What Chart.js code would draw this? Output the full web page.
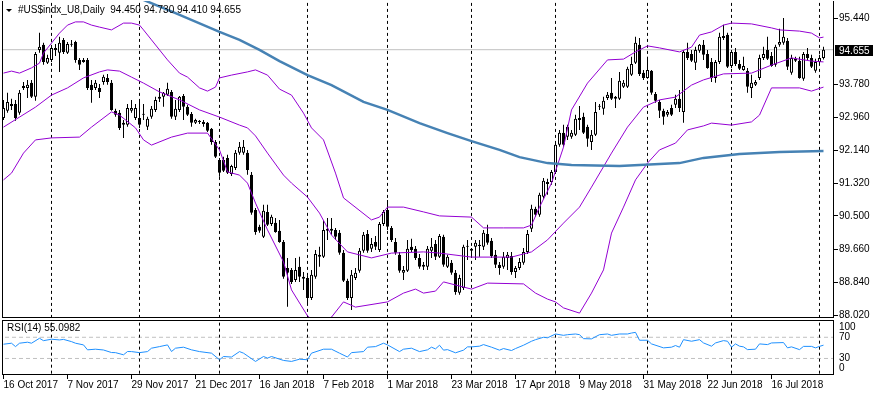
<!DOCTYPE html>
<html>
<head>
<meta charset="utf-8">
<script src="https://cdn.jsdelivr.net/npm/chart.js@4.4.1/dist/chart.umd.min.js"></script>
<style>
html, body { margin: 0; padding: 0; background: #fff; }
#wrap { position: relative; width: 873px; height: 395px; overflow: hidden; font-family: 'Liberation Sans', Arial, sans-serif; }
canvas { position: absolute; left: 0; display: block; }
#main { top: 0; }
#rsi { top: 318px; }
.lbl { position: absolute; font-size: 10px; line-height: 12px; color: #000; white-space: pre; }
.tri { position: absolute; left: 6px; top: 9px; width: 0; height: 0; border-left: 3px solid transparent; border-right: 3px solid transparent; border-top: 3px solid #000; }
</style>
</head>
<body>
<div id="wrap">
  <canvas id="main" width="873" height="320"></canvas>
  <canvas id="rsi" width="873" height="77"></canvas>
  <div class="tri"></div>
  <div class="lbl" style="left:18px; top:4px;">#US$indx_U8,Daily  94.450 94.730 94.410 94.655</div>
  <div class="lbl" style="left:7px; top:322px;">RSI(14) 55.0982</div>
</div>
<script>
// daily bars, 16 Oct 2017 .. 2 Aug 2018 (one entry per bar)
var dateLabels = ['16 Oct 2017', '7 Nov 2017', '29 Nov 2017', '21 Dec 2017', '16 Jan 2018', '7 Feb 2018', '1 Mar 2018',
    '23 Mar 2018', '17 Apr 2018', '9 May 2018', '31 May 2018', '22 Jun 2018', '16 Jul 2018'];
var labelEvery = 16;
var monthStarts = [12, 34, 54, 76, 96, 117, 138, 161, 182, 204];
var priceTicks = [95.44, 93.78, 92.96, 92.14, 91.32, 90.50, 89.66, 88.84, 88.02];
var rsiLevels = [30, 70];
var rsiTickText = ['0', '30', '70', '100'];

var open = [
    92.95, 93.13, 93.30, 93.30, 93.08, 93.70, 93.70, 93.83, 93.48, 94.65,
    94.78, 94.33, 94.40, 94.70, 94.58, 94.90, 94.58, 94.80, 94.85, 94.40,
    94.40, 94.40, 93.78, 93.70, 93.70, 93.85, 93.95, 93.83, 93.13, 93.08,
    92.83, 92.78, 93.13, 92.95, 92.95, 93.05, 92.73, 92.98, 93.15, 93.43,
    93.48, 93.53, 93.60, 92.98, 93.15, 93.50, 93.23, 93.05, 92.83, 92.88,
    92.85, 92.83, 92.68, 92.35, 91.90, 91.90, 91.95, 91.55, 91.70, 92.08,
    92.08, 92.08, 91.53, 90.65, 90.23, 89.98, 90.60, 90.30, 90.33, 90.13,
    89.85, 89.20, 89.15, 88.90, 89.23, 88.93, 88.95, 88.45, 88.98, 89.48,
    89.48, 90.13, 90.13, 90.15, 90.08, 89.58, 88.88, 88.45, 88.95, 89.13,
    89.63, 90.05, 89.68, 89.85, 89.65, 90.30, 90.65, 90.20, 89.85, 89.53,
    89.08, 89.13, 89.73, 89.68, 89.45, 89.23, 89.23, 89.63, 89.80, 89.48,
    89.98, 89.23, 89.33, 89.08, 88.58, 88.70, 89.75, 89.63, 89.73, 89.75,
    89.73, 90.05, 89.88, 89.53, 89.28, 89.23, 89.45, 89.50, 89.10, 89.20,
    89.33, 89.60, 90.18, 90.68, 90.53, 90.98, 91.35, 91.35, 91.60, 92.28,
    92.58, 92.48, 92.48, 92.53, 92.90, 92.98, 92.73, 92.35, 92.53, 93.23,
    93.18, 93.45, 93.58, 93.43, 93.43, 93.73, 93.73, 94.03, 94.33, 94.78,
    94.08, 93.95, 94.13, 93.55, 93.35, 93.13, 93.03, 93.20, 93.28, 93.43,
    93.10, 94.60, 94.55, 94.33, 94.63, 94.78, 94.55, 94.35, 93.95, 94.35,
    94.95, 95.03, 94.25, 94.60, 94.30, 94.15, 94.13, 93.70, 93.78, 93.95,
    94.45, 94.65, 94.50, 94.28, 94.78, 94.83, 94.88, 94.08, 94.43, 94.38,
    93.93, 94.55, 94.45, 94.13, 94.35, 94.45
];
var high = [
    93.40, 93.58, 93.43, 93.40, 93.65, 93.85, 93.90, 93.90, 94.60, 95.08,
    94.83, 94.53, 94.73, 94.80, 94.98, 94.95, 94.85, 94.90, 94.88, 94.45,
    94.45, 94.45, 93.90, 93.90, 93.80, 94.03, 94.05, 93.90, 93.18, 93.15,
    92.90, 93.30, 93.40, 93.30, 93.40, 93.30, 92.98, 93.25, 93.48, 93.70,
    93.60, 93.83, 93.65, 93.40, 93.50, 93.55, 93.28, 93.10, 92.93, 92.90,
    92.90, 92.85, 92.70, 92.40, 91.95, 91.98, 92.03, 91.78, 92.15, 92.35,
    92.40, 92.15, 91.60, 90.70, 90.28, 90.78, 90.78, 90.53, 90.45, 90.40,
    89.90, 89.45, 89.20, 89.45, 89.48, 89.10, 89.00, 89.15, 89.65, 89.73,
    90.40, 90.45, 90.45, 90.20, 90.15, 89.65, 88.93, 89.15, 89.20, 89.70,
    90.10, 90.15, 89.95, 90.00, 90.35, 90.65, 90.90, 90.25, 89.95, 89.60,
    89.25, 89.90, 89.93, 89.75, 89.55, 89.35, 89.75, 89.95, 89.90, 90.05,
    90.03, 89.53, 89.40, 89.15, 89.03, 89.78, 89.90, 89.70, 89.90, 89.90,
    90.15, 90.28, 89.95, 89.65, 89.35, 89.60, 89.60, 89.60, 89.25, 89.45,
    89.70, 90.15, 90.78, 90.73, 91.08, 91.45, 91.43, 91.65, 92.33, 92.65,
    92.78, 92.78, 92.65, 93.03, 93.25, 93.08, 92.78, 92.65, 93.35, 93.30,
    93.48, 93.60, 93.95, 93.50, 94.10, 93.90, 94.23, 94.48, 94.98, 94.95,
    94.15, 94.48, 94.15, 93.60, 93.40, 93.18, 93.15, 93.28, 93.53, 93.65,
    94.65, 94.83, 94.65, 94.73, 94.80, 94.90, 94.65, 94.45, 94.40, 95.08,
    95.28, 95.08, 94.65, 94.70, 94.40, 94.48, 94.20, 94.03, 93.90, 94.53,
    94.73, 94.98, 94.60, 94.78, 95.18, 95.45, 94.95, 94.53, 94.48, 94.48,
    94.60, 94.70, 94.53, 94.43, 94.53, 94.73
];
var low = [
    92.90, 93.08, 93.15, 92.88, 93.03, 93.65, 93.45, 93.45, 93.38, 94.58,
    94.28, 94.30, 94.35, 94.50, 94.10, 94.55, 94.55, 94.73, 94.33, 94.15,
    94.33, 93.65, 93.33, 93.65, 93.45, 93.78, 93.78, 93.13, 92.98, 92.65,
    92.45, 92.73, 93.08, 92.90, 92.70, 92.90, 92.65, 92.93, 93.10, 93.35,
    93.23, 93.50, 92.93, 92.90, 93.10, 92.90, 93.00, 92.73, 92.80, 92.80,
    92.73, 92.60, 92.28, 91.95, 91.48, 91.60, 91.55, 91.50, 91.65, 92.03,
    92.03, 91.53, 90.53, 90.03, 90.08, 89.95, 90.25, 90.25, 90.08, 89.83,
    88.93, 88.23, 88.80, 88.85, 88.85, 88.65, 88.28, 88.40, 88.93, 89.23,
    89.45, 89.90, 90.03, 89.90, 89.53, 88.85, 88.40, 88.15, 88.90, 89.08,
    89.58, 89.58, 89.60, 89.65, 89.60, 90.25, 90.15, 89.85, 89.53, 89.08,
    88.90, 89.10, 89.60, 89.40, 89.18, 89.15, 89.15, 89.45, 89.40, 89.45,
    89.23, 89.20, 89.03, 88.53, 88.53, 88.65, 89.40, 89.45, 89.40, 89.48,
    89.65, 89.78, 89.45, 89.20, 89.03, 89.18, 89.15, 89.03, 88.95, 89.15,
    89.28, 89.55, 90.10, 90.48, 90.48, 90.93, 91.03, 91.28, 91.55, 92.23,
    92.23, 92.40, 92.43, 92.50, 92.65, 92.55, 92.23, 92.15, 92.50, 93.15,
    93.03, 93.40, 93.40, 93.20, 93.40, 93.70, 93.70, 94.00, 94.30, 94.00,
    93.90, 93.93, 93.53, 93.33, 92.95, 92.78, 92.98, 93.00, 93.20, 93.10,
    92.83, 94.40, 94.35, 94.15, 94.58, 94.40, 94.18, 93.85, 93.83, 94.30,
    94.90, 94.20, 94.20, 94.25, 94.15, 94.13, 93.58, 93.45, 93.75, 93.90,
    94.40, 94.40, 94.23, 94.23, 94.73, 94.78, 94.15, 94.03, 94.35, 93.93,
    93.88, 94.40, 94.20, 94.08, 94.30, 94.41
];
var close = [
    93.20, 93.35, 93.25, 92.95, 93.58, 93.75, 93.78, 93.48, 94.55, 94.73,
    94.35, 94.45, 94.70, 94.65, 94.83, 94.60, 94.80, 94.78, 94.40, 94.28,
    94.35, 93.70, 93.65, 93.83, 93.60, 93.98, 93.85, 93.15, 93.03, 92.70,
    92.78, 93.20, 93.20, 93.20, 92.78, 93.03, 92.93, 93.18, 93.40, 93.48,
    93.58, 93.68, 92.98, 93.18, 93.48, 93.23, 93.03, 92.83, 92.90, 92.85,
    92.80, 92.63, 92.35, 91.98, 91.58, 91.63, 91.58, 91.75, 92.08, 92.23,
    92.23, 91.65, 90.58, 90.10, 90.13, 90.63, 90.28, 90.48, 90.10, 89.85,
    88.98, 89.08, 88.85, 89.15, 88.98, 88.98, 88.45, 89.03, 89.55, 89.53,
    90.15, 90.18, 90.18, 89.98, 89.58, 88.88, 88.45, 89.03, 89.08, 89.63,
    90.03, 89.63, 89.80, 89.73, 90.30, 90.60, 90.23, 89.90, 89.58, 89.13,
    89.15, 89.68, 89.65, 89.45, 89.23, 89.28, 89.68, 89.73, 89.48, 90.00,
    89.28, 89.48, 89.08, 88.60, 88.95, 89.73, 89.73, 89.68, 89.83, 89.78,
    90.08, 89.83, 89.50, 89.28, 89.20, 89.48, 89.53, 89.10, 89.20, 89.35,
    89.60, 90.05, 90.68, 90.53, 91.03, 91.38, 91.30, 91.60, 92.28, 92.58,
    92.28, 92.73, 92.58, 92.93, 92.95, 92.58, 92.43, 92.53, 93.10, 93.25,
    93.38, 93.53, 93.43, 93.48, 93.88, 93.83, 94.18, 94.30, 94.83, 94.05,
    93.95, 94.15, 93.58, 93.38, 93.13, 92.98, 93.10, 93.03, 93.43, 93.20,
    94.60, 94.45, 94.38, 94.65, 94.78, 94.53, 94.20, 93.95, 94.35, 94.98,
    95.00, 94.23, 94.60, 94.30, 94.18, 94.25, 93.73, 93.83, 93.85, 94.45,
    94.55, 94.43, 94.25, 94.73, 94.85, 94.98, 94.23, 94.45, 94.38, 93.95,
    94.55, 94.45, 94.23, 94.35, 94.45, 94.655
];

// Moving Average 200 (bar index, value)
var maBars = [33, 35, 43, 54, 59, 64, 69, 76, 82, 90, 96, 104, 111, 117, 124, 129, 136, 142, 154, 169, 175, 184, 194, 205];
var maVals = [96.05, 95.90, 95.57, 95.10, 94.90, 94.65, 94.37, 94.02, 93.77, 93.35, 93.15, 92.82, 92.57, 92.37, 92.15, 91.97, 91.82, 91.77, 91.75, 91.82, 91.95, 92.05, 92.10, 92.12];

// Bollinger Bands (20, 2)
var bbUpBars = [0, 2, 4, 7, 9, 10, 12, 14, 16, 18, 20, 22, 24, 27, 30, 32, 34, 35, 37, 41, 44, 46, 49, 51, 53, 54, 57, 61, 63, 66, 69, 72, 75, 77, 80, 83, 85, 92, 94, 96, 100, 105, 109, 117, 120, 125, 130, 132, 134, 137, 140, 142, 146, 151, 155, 158, 161, 164, 169, 172, 174, 177, 180, 182, 187, 192, 194, 199, 202, 204, 205];
var bbUpVals = [94.07, 94.12, 94.07, 94.20, 94.32, 94.57, 94.82, 95.07, 95.27, 95.35, 95.35, 95.27, 95.22, 95.15, 95.32, 95.32, 95.27, 95.15, 94.90, 94.40, 94.07, 93.97, 93.70, 93.62, 93.72, 93.95, 94.02, 94.10, 94.15, 94.02, 93.67, 93.52, 93.07, 92.70, 92.40, 91.57, 90.95, 90.40, 90.47, 90.72, 90.72, 90.60, 90.50, 90.47, 90.20, 90.20, 90.20, 90.27, 90.72, 91.32, 92.22, 93.15, 93.82, 94.40, 94.42, 94.60, 94.75, 94.70, 94.60, 94.72, 95.02, 95.10, 95.27, 95.32, 95.30, 95.20, 95.15, 95.12, 95.07, 94.95, 94.97];
var bbMidBars = [0, 4, 8, 12, 16, 20, 24, 26, 29, 32, 35, 39, 44, 49, 54, 59, 61, 63, 66, 70, 72, 76, 79, 82, 86, 92, 97, 105, 109, 117, 127, 132, 136, 140, 144, 147, 152, 156, 160, 164, 168, 172, 175, 180, 187, 192, 197, 202, 205];
var bbMidVals = [92.72, 92.97, 93.22, 93.52, 93.70, 93.95, 94.10, 94.15, 94.12, 93.97, 93.82, 93.60, 93.40, 93.15, 92.97, 92.77, 92.70, 92.50, 92.07, 91.52, 91.32, 90.97, 90.57, 90.02, 89.60, 89.45, 89.57, 89.60, 89.57, 89.47, 89.47, 89.60, 89.90, 90.32, 90.72, 91.22, 92.07, 92.72, 93.22, 93.40, 93.47, 93.77, 93.90, 94.05, 94.07, 94.27, 94.45, 94.37, 94.35];
var bbLoBars = [0, 2, 5, 8, 12, 19, 22, 27, 29, 33, 35, 37, 42, 46, 51, 54, 56, 59, 61, 63, 66, 70, 72, 76, 79, 82, 85, 88, 96, 100, 103, 105, 108, 110, 117, 121, 130, 133, 136, 138, 140, 144, 147, 150, 152, 155, 158, 161, 164, 168, 171, 175, 177, 182, 187, 189, 192, 199, 202, 205];
var bbLoVals = [91.40, 91.57, 92.07, 92.40, 92.45, 92.47, 92.72, 93.10, 93.02, 92.70, 92.40, 92.27, 92.47, 92.57, 92.57, 92.15, 91.60, 91.52, 91.32, 90.82, 90.15, 89.35, 88.65, 88.00, 87.77, 87.97, 88.35, 88.22, 88.35, 88.57, 88.67, 88.57, 88.62, 88.85, 88.67, 88.82, 88.80, 88.57, 88.42, 88.35, 88.20, 88.07, 88.57, 89.15, 90.07, 90.72, 91.40, 91.82, 92.15, 92.32, 92.65, 92.75, 92.82, 92.77, 92.85, 93.02, 93.70, 93.70, 93.62, 93.72];

// RSI(14)
var rsiBars = [0, 2, 3, 4, 6, 7, 9, 10, 12, 14, 15, 17, 18, 20, 21, 23, 25, 27, 28, 30, 31, 32, 34, 36, 37, 39, 41, 42, 43, 45, 47, 49, 52, 54, 55, 57, 59, 60, 63, 65, 66, 67, 70, 72, 74, 76, 77, 80, 82, 84, 86, 87, 90, 91, 93, 95, 96, 99, 100, 102, 104, 106, 107, 108, 109, 110, 111, 113, 115, 116, 117, 119, 120, 122, 124, 125, 127, 128, 130, 132, 133, 135, 136, 138, 140, 141, 143, 144, 145, 147, 149, 151, 152, 154, 156, 157, 158, 159, 161, 162, 165, 167, 168, 169, 170, 172, 174, 175, 177, 178, 180, 181, 182, 183, 184, 185, 186, 188, 189, 191, 192, 195, 196, 197, 199, 200, 202, 203, 204, 205];
var rsiVals = [56.9, 58.8, 52.4, 58.8, 60.7, 58.8, 68.1, 63.6, 66.3, 65.0, 66.0, 61.8, 58.8, 55.6, 46.3, 47.5, 46.0, 41.2, 41.0, 36.9, 43.1, 43.0, 41.0, 43.0, 49.4, 52.4, 55.6, 43.1, 49.4, 51.3, 46.3, 43.0, 40.0, 27.6, 33.7, 32.7, 43.0, 40.0, 24.4, 33.7, 30.7, 33.7, 26.3, 24.4, 28.6, 27.6, 40.0, 47.5, 47.5, 40.0, 32.7, 41.0, 43.0, 51.3, 52.4, 58.8, 55.6, 43.0, 47.5, 49.4, 43.0, 46.3, 51.3, 48.1, 55.0, 45.7, 46.7, 40.7, 45.7, 51.9, 51.9, 53.2, 56.2, 51.3, 45.7, 48.7, 45.0, 48.7, 55.0, 62.5, 65.5, 70.0, 69.0, 76.2, 73.7, 74.9, 76.2, 74.9, 67.4, 67.0, 74.9, 76.2, 73.7, 76.2, 76.2, 78.0, 79.3, 64.4, 64.4, 57.5, 50.0, 51.3, 54.4, 51.3, 65.5, 62.5, 65.5, 59.3, 53.2, 59.3, 63.7, 62.5, 51.3, 57.5, 53.2, 51.9, 46.7, 47.5, 57.5, 56.2, 59.3, 60.0, 50.0, 51.9, 46.7, 52.8, 52.8, 50.0, 52.8, 55.1];

var FONT = "'Liberation Sans', Arial, sans-serif";
var xMin = -0.375, xMax = 207.625;

function pts(bars, vals) {
    return bars.map(function(b, k) { return {x: b, y: vals[k]}; });
}

function lineSet(data, color, width, order, dash) {
    return {
        type: 'line', data: data, borderColor: color, borderWidth: width,
        borderDash: dash || [], pointRadius: 0, fill: false, tension: 0, order: order
    };
}

// black frame round the plot area
var framePlugin = {
    id: 'frame',
    afterDatasetsDraw: function(chart, args, opts) {
        var a = chart.chartArea, ctx = chart.ctx;
        ctx.save();
        ctx.strokeStyle = '#000';
        ctx.lineWidth = 1;
        ctx.beginPath();
        if (opts.top) {
            ctx.moveTo(a.left, a.top + 0.5);
            ctx.lineTo(a.right, a.top + 0.5);
        }
        ctx.moveTo(a.left + 0.5, a.top);
        ctx.lineTo(a.left + 0.5, a.bottom);
        ctx.moveTo(a.right - 0.5, a.top);
        ctx.lineTo(a.right - 0.5, a.bottom);
        ctx.moveTo(a.left, a.bottom - 0.5);
        ctx.lineTo(a.right, a.bottom - 0.5);
        ctx.stroke();
        ctx.restore();
    }
};

// last price box on the price scale
var priceBox = {
    id: 'priceBox',
    afterDraw: function(chart) {
        var last = close[close.length - 1];
        var y = Math.round(chart.scales.y.getPixelForValue(last));
        var a = chart.chartArea, ctx = chart.ctx;
        ctx.save();
        ctx.fillStyle = '#000';
        ctx.fillRect(a.right + 1, y - 5, chart.width - a.right - 1, 11);
        ctx.fillStyle = '#fff';
        ctx.font = '10px ' + FONT;
        ctx.textBaseline = 'middle';
        ctx.fillText(last.toFixed(3), a.right + 5, y + 1);
        ctx.restore();
    }
};

var bodies = [], wicks = [];
for (var i = 0; i < close.length; i++) {
    bodies.push({x: i, y: [open[i], close[i]]});
    wicks.push({x: i, y: [low[i], high[i]]});
}
var bodyColor = close.map(function(c, i) { return c >= open[i] ? '#ffffff' : '#000000'; });
var lastClose = close[close.length - 1];

var mainSets = [
    lineSet([{x: xMin - 1, y: lastClose}, {x: xMax + 1, y: lastClose}], '#c0c0c0', 1, 12),
    lineSet(pts(maBars, maVals), '#4682b4', 2.5, 1),
    lineSet(pts(bbUpBars, bbUpVals), '#9400d3', 1, 2),
    lineSet(pts(bbMidBars, bbMidVals), '#9400d3', 1, 2),
    lineSet(pts(bbLoBars, bbLoVals), '#9400d3', 1, 2),
    {
        type: 'bar', data: wicks, backgroundColor: '#000', borderWidth: 0,
        barThickness: 1, grouped: false, inflateAmount: 0, order: 6
    },
    {
        type: 'bar', data: bodies, backgroundColor: bodyColor, borderColor: '#000', borderWidth: 1,
        borderSkipped: false, barThickness: 3, minBarLength: 1, grouped: false, inflateAmount: 0, order: 5
    }
];
monthStarts.forEach(function(b) {
    mainSets.push(lineSet([{x: b, y: 80}, {x: b, y: 100}], '#000', 1, 10, [3, 3]));
});

new Chart(document.getElementById('main'), {
    type: 'bar',
    data: {datasets: mainSets},
    plugins: [framePlugin, priceBox],
    options: {
        responsive: false,
        animation: false,
        devicePixelRatio: 1,
        layout: {padding: {left: 2, top: 1, right: 0, bottom: 2}},
        plugins: {legend: {display: false}, tooltip: {enabled: false}, frame: {top: false}},
        scales: {
            x: {type: 'linear', display: false, offset: false, min: xMin, max: xMax},
            y: {
                position: 'right', min: 87.9475, max: 95.8725, beginAtZero: false,
                afterBuildTicks: function(s) { s.ticks = priceTicks.map(function(v) { return {value: v}; }); },
                afterFit: function(s) { s.width = 39; s.paddingTop = 0; s.paddingBottom = 0; },
                ticks: {
                    callback: function(v) { return v.toFixed(3); },
                    font: {family: FONT, size: 10}, color: '#000', padding: 1
                },
                grid: {drawOnChartArea: false, tickLength: 4, color: '#000'},
                border: {display: false}
            }
        }
    }
});

var rsiSets = [lineSet(pts(rsiBars, rsiVals), '#1e90ff', 1, 1)];
rsiLevels.forEach(function(v) {
    rsiSets.push(lineSet([{x: xMin - 1, y: v}, {x: xMax + 1, y: v}], '#c0c0c0', 1, 5, [4, 3]));
});
monthStarts.forEach(function(b) {
    rsiSets.push(lineSet([{x: b, y: -10}, {x: b, y: 110}], '#000', 1, 4, [3, 3]));
});

new Chart(document.getElementById('rsi'), {
    type: 'line',
    data: {datasets: rsiSets},
    plugins: [framePlugin],
    options: {
        responsive: false,
        animation: false,
        devicePixelRatio: 1,
        layout: {padding: {left: 2, top: 2, right: 0, bottom: 0}},
        plugins: {legend: {display: false}, tooltip: {enabled: false}, frame: {top: true}},
        scales: {
            x: {
                type: 'linear', min: xMin, max: xMax, offset: false,
                afterBuildTicks: function(s) { s.ticks = dateLabels.map(function(d, k) { return {value: k * labelEvery}; }); },
                afterFit: function(s) { s.height = 20; s.paddingLeft = 0; s.paddingRight = 0; },
                ticks: {
                    callback: function(v, k) { return dateLabels[k]; },
                    align: 'start', autoSkip: false, maxRotation: 0, padding: 0,
                    font: {family: FONT, size: 10}, color: '#000'
                },
                grid: {drawOnChartArea: false, tickLength: 4, color: '#000'},
                border: {display: false}
            },
            y: {
                position: 'right', min: -1.2, max: 102.6,
                afterBuildTicks: function(s) { s.ticks = [12, 30, 70, 89].map(function(v) { return {value: v}; }); },
                afterFit: function(s) { s.width = 39; s.paddingTop = 0; s.paddingBottom = 0; },
                ticks: {
                    callback: function(v, k) { return rsiTickText[k]; },
                    font: {family: FONT, size: 10}, color: '#000', padding: 5
                },
                grid: {display: false, drawTicks: false},
                border: {display: false}
            }
        }
    }
});
</script>
</body>
</html>
